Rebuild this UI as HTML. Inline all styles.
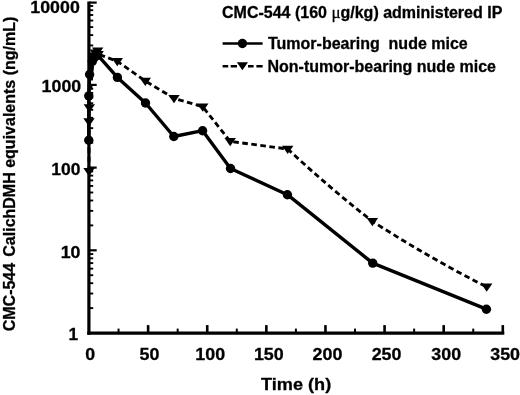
<!DOCTYPE html>
<html lang="en"><head><meta charset="utf-8"><title>CMC-544 pharmacokinetics</title>
<style>html,body{margin:0;padding:0;background:#fff}body{width:520px;height:395px;overflow:hidden}</style></head>
<body>
<svg width="520" height="395" viewBox="0 0 520 395" style="display:block">
<rect width="520" height="395" fill="#fff"/>
<defs><filter id="soft" x="0" y="0" width="100%" height="100%" filterUnits="userSpaceOnUse" color-interpolation-filters="sRGB"><feGaussianBlur stdDeviation="0.45"/></filter></defs>
<g filter="url(#soft)">
<g stroke="#000" fill="none" stroke-linecap="butt">
<path d="M88.9 1.4V334.8" stroke-width="3.2"/>
<path d="M87.3 333.1H504.3" stroke-width="3.4"/>
<path d="M89 308.10H93.2" stroke-width="1.9"/>
<path d="M89 293.54H93.2" stroke-width="1.9"/>
<path d="M89 283.21H93.2" stroke-width="1.9"/>
<path d="M89 275.20H93.2" stroke-width="1.9"/>
<path d="M89 268.65H93.2" stroke-width="1.9"/>
<path d="M89 263.11H93.2" stroke-width="1.9"/>
<path d="M89 258.31H93.2" stroke-width="1.9"/>
<path d="M89 254.08H93.2" stroke-width="1.9"/>
<path d="M89 250.30H96.7" stroke-width="2.2"/>
<path d="M89 225.40H93.2" stroke-width="1.9"/>
<path d="M89 210.84H93.2" stroke-width="1.9"/>
<path d="M89 200.51H93.2" stroke-width="1.9"/>
<path d="M89 192.50H93.2" stroke-width="1.9"/>
<path d="M89 185.95H93.2" stroke-width="1.9"/>
<path d="M89 180.41H93.2" stroke-width="1.9"/>
<path d="M89 175.61H93.2" stroke-width="1.9"/>
<path d="M89 171.38H93.2" stroke-width="1.9"/>
<path d="M89 167.60H96.7" stroke-width="2.2"/>
<path d="M89 142.70H93.2" stroke-width="1.9"/>
<path d="M89 128.14H93.2" stroke-width="1.9"/>
<path d="M89 117.81H93.2" stroke-width="1.9"/>
<path d="M89 109.80H93.2" stroke-width="1.9"/>
<path d="M89 103.25H93.2" stroke-width="1.9"/>
<path d="M89 97.71H93.2" stroke-width="1.9"/>
<path d="M89 92.91H93.2" stroke-width="1.9"/>
<path d="M89 88.68H93.2" stroke-width="1.9"/>
<path d="M89 84.90H96.7" stroke-width="2.2"/>
<path d="M89 60.00H93.2" stroke-width="1.9"/>
<path d="M89 45.44H93.2" stroke-width="1.9"/>
<path d="M89 35.11H93.2" stroke-width="1.9"/>
<path d="M89 27.10H93.2" stroke-width="1.9"/>
<path d="M89 20.55H93.2" stroke-width="1.9"/>
<path d="M89 15.01H93.2" stroke-width="1.9"/>
<path d="M89 10.21H93.2" stroke-width="1.9"/>
<path d="M89 5.98H93.2" stroke-width="1.9"/>
<path d="M89 2.60H96.7" stroke-width="2.2"/>
<path d="M118.56 328.6V333" stroke-width="2"/>
<path d="M148.12 325.1V333" stroke-width="2.6"/>
<path d="M177.67 328.6V333" stroke-width="2"/>
<path d="M207.23 325.1V333" stroke-width="2.6"/>
<path d="M236.79 328.6V333" stroke-width="2"/>
<path d="M266.35 325.1V333" stroke-width="2.6"/>
<path d="M295.90 328.6V333" stroke-width="2"/>
<path d="M325.46 325.1V333" stroke-width="2.6"/>
<path d="M355.02 328.6V333" stroke-width="2"/>
<path d="M384.57 325.1V333" stroke-width="2.6"/>
<path d="M414.13 328.6V333" stroke-width="2"/>
<path d="M443.69 325.1V333" stroke-width="2.6"/>
<path d="M473.25 328.6V333" stroke-width="2"/>
<path d="M502.80 325.1V333" stroke-width="2.6"/>
</g>
<polyline fill="none" stroke="#000" stroke-width="3.4" stroke-linejoin="round" points="88.8,140.3 88.8,95.9 89.6,74.5 92.3,61.5 94.2,57.8 96.2,56 97.7,55.2 117.4,77.4 145.5,103 173.8,136.5 202.6,130.7 230.5,168.5 287.4,194.7 372.7,263.1 486.4,309.2"/>
<path fill="none" stroke="#000" stroke-width="2.85" stroke-dasharray="5.6 3.5" stroke-linejoin="round" d="M89.00 171.40 L89.00 121.50 L89.30 107.50 L93.40 55.90 L95.20 52.90 L97.65 50.80 L98.20 54.20 L117.30 61.30 L145.30 81.00 L174.00 98.30 L202.80 106.80 L230.20 141.40 L287.70 149.00 Q330.05 188.35 372.40 221.30 Q429.55 258.10 486.70 286.90"/>
<circle cx="88.8" cy="140.3" r="4.7" fill="#000"/>
<circle cx="88.8" cy="95.9" r="4.7" fill="#000"/>
<circle cx="89.6" cy="74.5" r="4.7" fill="#000"/>
<circle cx="92.3" cy="61.5" r="4.7" fill="#000"/>
<circle cx="94.2" cy="57.8" r="4.7" fill="#000"/>
<circle cx="96.2" cy="56" r="4.7" fill="#000"/>
<circle cx="97.7" cy="55.2" r="4.7" fill="#000"/>
<circle cx="117.4" cy="77.4" r="4.7" fill="#000"/>
<circle cx="145.5" cy="103" r="4.7" fill="#000"/>
<circle cx="173.8" cy="136.5" r="4.7" fill="#000"/>
<circle cx="202.6" cy="130.7" r="4.7" fill="#000"/>
<circle cx="230.5" cy="168.5" r="4.7" fill="#000"/>
<circle cx="287.4" cy="194.7" r="4.7" fill="#000"/>
<circle cx="372.7" cy="263.1" r="4.7" fill="#000"/>
<circle cx="486.4" cy="309.2" r="4.7" fill="#000"/>
<path d="M83.30 168.10H94.70L89.00 176.30Z" fill="#000"/>
<path d="M83.30 118.20H94.70L89.00 126.40Z" fill="#000"/>
<path d="M83.60 104.20H95.00L89.30 112.40Z" fill="#000"/>
<path d="M87.70 52.60H99.10L93.40 60.80Z" fill="#000"/>
<path d="M89.50 49.60H100.90L95.20 57.80Z" fill="#000"/>
<path d="M91.95 47.50H103.35L97.65 55.70Z" fill="#000"/>
<path d="M92.50 50.90H103.90L98.20 59.10Z" fill="#000"/>
<path d="M111.60 58.00H123.00L117.30 66.20Z" fill="#000"/>
<path d="M139.60 77.70H151.00L145.30 85.90Z" fill="#000"/>
<path d="M168.30 95.00H179.70L174.00 103.20Z" fill="#000"/>
<path d="M197.10 103.50H208.50L202.80 111.70Z" fill="#000"/>
<path d="M224.50 138.10H235.90L230.20 146.30Z" fill="#000"/>
<path d="M282.00 145.70H293.40L287.70 153.90Z" fill="#000"/>
<path d="M366.70 218.00H378.10L372.40 226.20Z" fill="#000"/>
<path d="M481.00 283.60H492.40L486.70 291.80Z" fill="#000"/>
<path d="M222.6 43.5H262.6" stroke="#000" stroke-width="2.7"/>
<circle cx="242.4" cy="43.5" r="4.7" fill="#000"/>
<path d="M222.6 66.3H228.2M230.7 66.3H237M248 66.3H253.6M256.4 66.3H262.6" stroke="#000" stroke-width="2.6"/>
<path d="M236.80 62.30H248.00L242.40 70.30Z" fill="#000"/>
<g font-family="'Liberation Sans', Arial, Helvetica, sans-serif" font-weight="bold" fill="#000" stroke="#000" stroke-width="0.3" stroke-linejoin="round">
<text x="222" y="18.2" font-size="16" text-anchor="start" id="t_title" xml:space="preserve">CMC-544 (160 <tspan font-family="'Liberation Serif', 'DejaVu Serif', serif" font-weight="normal" font-size="17">μ</tspan>g/kg) administered IP</text>
<text x="268" y="48.8" font-size="16" text-anchor="start" id="t_l1" xml:space="preserve">Tumor-bearing  nude mice</text>
<text x="267.5" y="71.5" font-size="16" text-anchor="start" id="t_l2" xml:space="preserve">Non-tumor-bearing nude mice</text>
<text x="30.3" y="13.2" font-size="17.4" text-anchor="start" id="y4" textLength="49.5" lengthAdjust="spacingAndGlyphs" xml:space="preserve">10000</text>
<text x="41.6" y="92.3" font-size="17.4" text-anchor="start" id="y3" textLength="39.6" lengthAdjust="spacingAndGlyphs" xml:space="preserve">1000</text>
<text x="51.25" y="175.3" font-size="17.4" text-anchor="start" id="y2" textLength="29.2" lengthAdjust="spacingAndGlyphs" xml:space="preserve">100</text>
<text x="60.7" y="258.0" font-size="17.4" text-anchor="start" id="y1" textLength="19.8" lengthAdjust="spacingAndGlyphs" xml:space="preserve">10</text>
<text x="68.6" y="340.4" font-size="17.4" text-anchor="start" id="y0" textLength="9.6" lengthAdjust="spacingAndGlyphs" xml:space="preserve">1</text>
<text x="85.25" y="360" font-size="17.3" text-anchor="start" id="x0" textLength="9.9" lengthAdjust="spacingAndGlyphs" xml:space="preserve">0</text>
<text x="139.45" y="360" font-size="17.3" text-anchor="start" id="x50" textLength="19.9" lengthAdjust="spacingAndGlyphs" xml:space="preserve">50</text>
<text x="195.35" y="360" font-size="17.3" text-anchor="start" id="x100" textLength="29.8" lengthAdjust="spacingAndGlyphs" xml:space="preserve">100</text>
<text x="253.95" y="360" font-size="17.3" text-anchor="start" id="x150" textLength="29.8" lengthAdjust="spacingAndGlyphs" xml:space="preserve">150</text>
<text x="312.55" y="360" font-size="17.3" text-anchor="start" id="x200" textLength="29.8" lengthAdjust="spacingAndGlyphs" xml:space="preserve">200</text>
<text x="371.65" y="360" font-size="17.3" text-anchor="start" id="x250" textLength="29.8" lengthAdjust="spacingAndGlyphs" xml:space="preserve">250</text>
<text x="431.35" y="360" font-size="17.3" text-anchor="start" id="x300" textLength="29.8" lengthAdjust="spacingAndGlyphs" xml:space="preserve">300</text>
<text x="490.25" y="360" font-size="17.3" text-anchor="start" id="x350" textLength="29.8" lengthAdjust="spacingAndGlyphs" xml:space="preserve">350</text>
<text x="261" y="389.5" font-size="17.4" text-anchor="start" id="t_time" textLength="70.2" lengthAdjust="spacingAndGlyphs" xml:space="preserve">Time (h)</text>
<text transform="translate(14.6 331.3) rotate(-90)" font-size="16" id="t_y" xml:space="preserve">CMC-544 <tspan dx="1.7">CalichDMH equivalents (ng/mL)</tspan></text>
</g>
</g>
</svg>
</body></html>
